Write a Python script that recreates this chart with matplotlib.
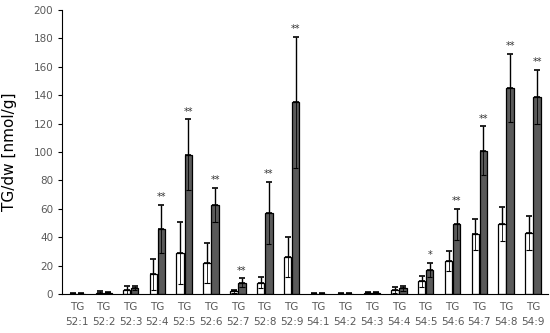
import matplotlib.pyplot as plt
import numpy as np

labels = ['52:1', '52:2', '52:3', '52:4', '52:5', '52:6', '52:7', '52:8', '52:9',
          '54:1', '54:2', '54:3', '54:4', '54:5', '54:6', '54:7', '54:8', '54:9']
ctrl = [0.3, 1.0, 3, 14, 29, 22, 2, 8, 26, 0.3, 0.3, 1.0, 3, 9, 23, 42, 49, 43]
ctrl_err = [0.2, 1.0, 3, 11, 22, 14, 1, 4, 14, 0.1, 0.2, 0.5, 2, 4, 7, 11, 12, 12]
treat = [0.3, 0.8, 4, 46, 98, 63, 8, 57, 135, 0.3, 0.3, 1.0, 4, 17, 49, 101, 145, 139]
treat_err = [0.2, 0.3, 1.5, 17, 25, 12, 3, 22, 46, 0.1, 0.2, 0.5, 2, 5, 11, 17, 24, 19]
stars = ['', '', '', '**', '**', '**', '**', '**', '**',
         '', '', '', '', '*', '**', '**', '**', '**']

x = np.arange(len(labels))
w = 0.28
grey = '#595959'

fig = plt.figure(figsize=(5.5, 3.33), dpi=100)
ax = fig.add_axes([0.113, 0.117, 0.883, 0.853])

for xs, vals, errs, fc in [(x - 0.15, ctrl, ctrl_err, 'white'), (x + 0.15, treat, treat_err, '#5a5a5a')]:
    ax.bar(xs, vals, w, color=fc, edgecolor='black', linewidth=0.9, zorder=2)
    ax.errorbar(xs, vals, yerr=[np.zeros(len(vals)), errs], fmt='none', ecolor='black',
                elinewidth=1.0, capsize=2, capthick=1.2, zorder=3)
    low = np.maximum(np.array(vals) - np.array(errs), 0)
    ax.vlines(xs, low, vals, color='black', linewidth=0.6, zorder=3)
    ax.hlines(low, xs - w * 0.35, xs + w * 0.35, color='black', linewidth=0.8, zorder=3)

for i, s in enumerate(stars):
    if s:
        ax.text(x[i] + 0.15, treat[i] + treat_err[i] + 2, s, ha='center', va='bottom',
                fontsize=7, color='#333333')

ax.set_xlim(-0.55, len(labels) - 0.45)
ax.set_ylim(0, 200)
ax.set_yticks(range(0, 201, 20))
ax.set_xticks(x)
ax.set_xticklabels(['TG\n' + l for l in labels], fontsize=7.5, color=grey, linespacing=1.55)
ax.tick_params(axis='x', length=0, pad=6)
ax.tick_params(axis='y', labelsize=7.5, labelcolor=grey, length=3, direction='out')
ax.set_ylabel('TG/dw [nmol/g]', fontsize=11, labelpad=12)
ax.spines['top'].set_visible(False)
ax.spines['right'].set_visible(False)

plt.savefig('out.png')
